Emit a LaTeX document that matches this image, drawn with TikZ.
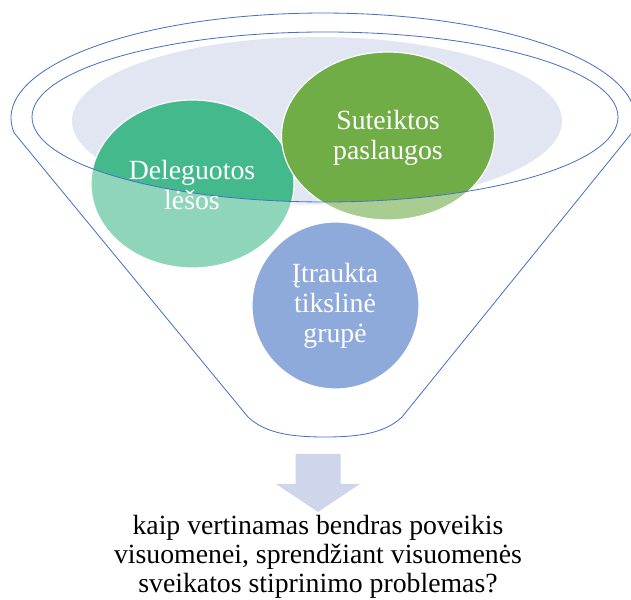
\documentclass[tikz,border=0pt]{standalone}
\usepackage{fontspec}
\setmainfont{Liberation Serif}
\newfontfamily\timesfont{Liberation Serif}

\definecolor{tealball}{RGB}{68,186,140}
\definecolor{greenball}{RGB}{112,173,71}
\definecolor{blueball}{RGB}{68,114,196}
\definecolor{rimline}{RGB}{68,114,196}
\definecolor{mouth}{RGB}{226,230,242}
\definecolor{downarrow}{RGB}{207,213,234}

\tikzset{
  ball/.style={draw=white, line width=1pt},
  balltext/.style={text=white, align=center, inner sep=0pt, font=\timesfont\fontsize{23.7}{25.5}\selectfont},
  question/.style={text=black, align=center, inner sep=0pt, font=\timesfont\fontsize{23.7}{24.7}\selectfont},
  rim/.style={draw=rimline, line width=0.7pt}
}

\begin{document}
\begin{tikzpicture}[x=0.03cm, y=-0.03cm]
\clip (0,0) rectangle (631,600);
% mouth of the funnel
\fill[mouth] (317,121) ellipse (245 and 84);
% balls
\path[fill=tealball, ball] (192.5,184) ellipse (101.5 and 84);
\path[fill=greenball, ball] (388,136) ellipse (106.5 and 84);
\path[fill=blueball, ball] (335.5,305.5) ellipse (83.5 and 83.5);
% funnel body over the balls
\fill[white, fill opacity=0.4, even odd rule] (14.2,133) arc[start angle=171.8, end angle=368.2, x radius=312, y radius=105]
  -- (402,417) .. controls (385,433) and (360,437) .. (325,437) .. controls (290,437) and (265,433) .. (248,417) -- cycle
  (325,117) ellipse (293 and 85);
\draw[rim] (14.2,133) arc[start angle=171.8, end angle=368.2, x radius=312, y radius=105]
  -- (402,417) .. controls (385,433) and (360,437) .. (325,437) .. controls (290,437) and (265,433) .. (248,417) -- cycle;
\draw[rim] (325,117) ellipse (293 and 85);
% texts
\node[balltext] (lesos) at (192,185) {Deleguotos\\lėšos};
\node[balltext] (paslaugos) at (388,138) {Suteiktos\\paslaugos};
\node[balltext] (grupe) at (335,306) {Įtraukta\\tikslinė\\grupė};
% arrow and question
\fill[downarrow] (295.5,454) -- (340.5,454) -- (340.5,484) -- (360,484) -- (318,512) -- (276,484) -- (295.5,484) -- cycle;
\node[question] (klausimas) at (318,557) {kaip vertinamas bendras poveikis\\visuomenei, sprendžiant visuomenės\\sveikatos stiprinimo problemas?};
\end{tikzpicture}
\end{document}
